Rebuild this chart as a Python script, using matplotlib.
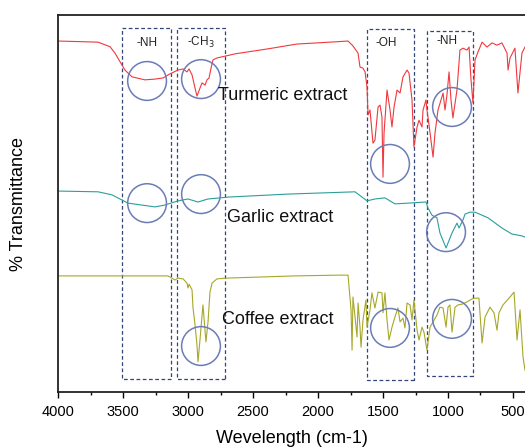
import numpy as np
import matplotlib
matplotlib.use("Agg")
import matplotlib.pyplot as plt
from matplotlib.patches import Rectangle

plt.rcParams['font.family'] = ['Liberation Sans', 'DejaVu Sans']

# ---- spectra (wavenumber cm-1, arbitrary % T) ----
turmeric_wn = [4000, 3692, 3600, 3562, 3485, 3431, 3331, 3254, 3192, 3138, 3077, 3038, 3008, 2992, 2969,
               2946, 2931, 2908, 2892, 2869, 2854, 2838, 2823, 2808, 2777, 2638, 2446, 2354, 2162,
               1908, 1769, 1731, 1692, 1677, 1654, 1638, 1623, 1615, 1600, 1577, 1562, 1538, 1523,
               1508, 1500, 1492, 1469, 1446, 1431, 1415, 1392, 1369, 1346, 1315, 1300, 1277, 1262,
               1238, 1223, 1200, 1192, 1169, 1162, 1154, 1138, 1115, 1100, 1077, 1038, 1023, 1008,
               992, 977, 962, 931, 908, 885, 854, 838, 823, 808, 792, 769, 738, 700, 662, 623, 585,
               546, 538, 523, 485, 462, 431, 408]
turmeric_t = [93.1, 92.8, 91.6, 89.9, 85.4, 83.6, 82.8, 83.0, 83.3, 84.4, 85.4, 85.7, 84.9, 85.7, 84.1,
              80.6, 78.5, 80.6, 82.0, 81.4, 82.8, 83.3, 85.9, 88.1, 88.6, 89.7, 90.7, 91.2, 92.3,
              92.8, 93.1, 91.8, 89.9, 86.2, 85.9, 84.9, 80.9, 73.5, 74.8, 66.0, 66.8, 75.6, 76.1,
              72.9, 57.0, 68.7, 80.1, 74.8, 70.3, 75.6, 80.1, 79.3, 83.6, 85.4, 84.6, 77.5, 65.0,
              70.3, 72.1, 70.3, 74.8, 77.5, 74.8, 72.9, 68.7, 62.3, 68.7, 74.8, 79.3, 74.8, 78.8,
              84.9, 77.5, 72.7, 80.1, 90.7, 91.2, 90.7, 91.5, 82.8, 76.7, 88.1, 90.2, 92.8, 91.5,
              92.6, 92.0, 92.6, 89.9, 85.4, 88.6, 91.2, 79.3, 89.9, 91.5]

garlic_wn = [4000, 3692, 3585, 3462, 3254, 3177, 3077, 3000, 2923, 2846, 2692, 2231, 1715, 1623,
             1562, 1485, 1408, 1308, 1169, 1154, 1123, 1085, 1062, 1015, 969, 931, 915, 885, 869,
             831, 792, 692, 585, 508, 431, 408]
garlic_t = [53.3, 53.1, 52.3, 50.1, 49.1, 49.6, 50.7, 51.2, 50.4, 51.2, 51.7, 52.5, 53.1, 50.7,
            51.2, 51.5, 49.9, 50.1, 50.4, 48.8, 46.9, 46.2, 42.2, 38.2, 42.2, 44.8, 43.5, 45.6, 47.2,
            47.7, 47.7, 46.2, 43.5, 41.9, 41.4, 41.1]

coffee_wn = [4000, 3154, 3123, 3100, 3077, 3038, 3008, 3000, 2992, 2969, 2962, 2946, 2931, 2923,
             2908, 2885, 2862, 2846, 2831, 2815, 2777, 2715, 2177, 1831, 1769, 1746, 1738, 1731,
             1715, 1700, 1692, 1677, 1669, 1654, 1631, 1623, 1600, 1585, 1562, 1538, 1508, 1500,
             1485, 1469, 1454, 1431, 1408, 1385, 1369, 1346, 1331, 1315, 1292, 1277, 1262, 1238,
             1223, 1200, 1185, 1162, 1138, 1115, 1085, 1062, 1038, 1015, 1000, 985, 969, 946, 923,
             892, 854, 815, 792, 762, 738, 715, 677, 646, 623, 608, 577, 523, 492, 469, 446, 423, 408]
coffee_t = [30.8, 30.8, 30.2, 29.7, 30.2, 30.0, 28.9, 27.6, 28.6, 27.1, 22.5, 17.8, 12.5, 8.0,
            13.8, 23.1, 13.3, 18.6, 26.5, 28.9, 30.0, 30.2, 30.8, 31.0, 31.0, 21.8, 11.1, 25.2,
            19.9, 14.6, 23.6, 17.2, 11.9, 19.1, 24.4, 17.2, 21.8, 26.3, 22.3, 26.5, 26.3, 21.0,
            26.3, 19.1, 13.8, 17.2, 19.9, 22.3, 18.6, 19.6, 17.0, 23.6, 23.1, 19.1, 24.4, 16.4,
            13.8, 17.2, 15.9, 11.1, 17.2, 18.6, 20.4, 22.5, 22.3, 17.2, 22.5, 23.1, 15.9, 22.5, 23.1,
            23.3, 23.9, 24.7, 24.9, 24.9, 13.0, 19.9, 22.5, 21.0, 16.4, 21.0, 23.1, 25.2, 26.5, 13.8,
            21.8, 9.3, 5.8]

# band boxes: (label, high wn, low wn, bottom, top)
box_labels = ['-NH', '-CH$_3$', '-OH', '-NH']
box_hi = [3508, 3085, 1623, 1162]
box_lo = [3131, 2715, 1262, 808]
box_bottom = [3.4, 3.4, 3.2, 4.2]
box_top = [96.6, 96.6, 96.3, 95.8]
box_label_x = [3315, 2900, 1477, 1008]
box_label_y = [92.6, 92.6, 92.6, 93.2]

# highlighted peaks (circles)
circle_wn = [3315, 2900, 3315, 2900, 2900, 1446, 969, 1015, 1446, 969]
circle_t = [82.5, 83.0, 50.1, 52.5, 12.2, 60.5, 75.6, 42.4, 17.0, 19.4]

# curve labels
names = ['Turmeric extract', 'Garlic extract', 'Coffee extract']
name_x = [2769, 2700, 2738]
name_y = [78.6, 46.4, 19.1]

fig = plt.figure(figsize=(5.25, 4.48), dpi=100)
ax = fig.add_axes([0.1105, 0.125, 0.8914, 0.8415])

ax.plot(turmeric_wn, turmeric_t, color='#f0383e', lw=0.8)
ax.plot(garlic_wn, garlic_t, color='#2a9f9a', lw=0.8)
ax.plot(coffee_wn, coffee_t, color='#a6a82a', lw=0.8)

for lab, hi, lo, b, t, lx, ly in zip(box_labels, box_hi, box_lo, box_bottom, box_top,
                                     box_label_x, box_label_y):
    ax.add_patch(Rectangle((lo, b), hi - lo, t - b, fill=False, ec='#34457a',
                           ls=(0, (3, 2)), lw=0.9))
    ax.text(lx, ly, lab, ha='center', va='center', fontsize=8.5, color='#222222')

ax.scatter(circle_wn, circle_t, s=780, facecolors='none', edgecolors='#6b7cb8', linewidths=1.1,
           zorder=3)

for n, x, y in zip(names, name_x, name_y):
    ax.text(x, y, n, ha='left', va='center', fontsize=13, color='#111111')

ax.set_xlim(4000, 400)
ax.set_ylim(0, 100)
ax.set_yticks([])
ax.set_xticks([4000, 3500, 3000, 2500, 2000, 1500, 1000, 500])
ax.set_xticks(np.arange(3750, 400, -500), minor=True)
ax.tick_params(axis='x', which='major', direction='out', length=4, width=1, labelsize=10.5, pad=5)
ax.tick_params(axis='x', which='minor', direction='out', length=2.5, width=1)
for s in ax.spines.values():
    s.set_linewidth(1.3)
    s.set_color('#222222')

ax.set_xlabel('Wevelength (cm-1)', fontsize=13)
ax.set_ylabel('% Transmittance', fontsize=13)
ax.xaxis.set_label_coords(0.5, -0.1)
ax.yaxis.set_label_coords(-0.066, 0.5)

fig.savefig('out.png', dpi=100)
